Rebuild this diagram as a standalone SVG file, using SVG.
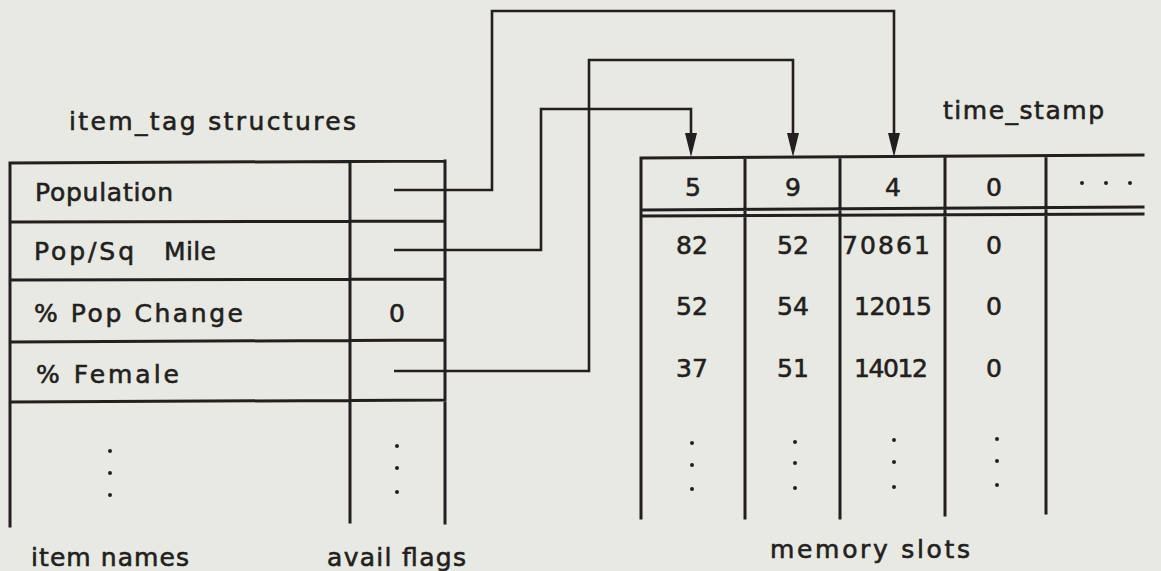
<svg xmlns="http://www.w3.org/2000/svg" width="1161" height="571" viewBox="0 0 1161 571">
<style>
.bg{fill:#e9e9e3}
.ln{stroke:#231f20;stroke-width:3;fill:none;stroke-linecap:square}
.cn{stroke:#231f20;stroke-width:2.6;fill:none}
.t{font-family:"DejaVu Sans","Liberation Sans",sans-serif;font-size:25px;fill:#231f20;stroke:#231f20;stroke-width:0.6}
.c{text-anchor:middle}
.dot{fill:#231f20}
</style>
<defs>
<marker id="arr" viewBox="0 0 24 12" markerWidth="24" markerHeight="12" refX="17" refY="6" orient="auto" markerUnits="userSpaceOnUse">
<path d="M0,0 L24,6 L0,12 z" fill="#231f20"/>
</marker>
</defs>
<rect class="bg" x="0" y="0" width="1161" height="571"/>

<g id="labels">
<text class="t" x="69" y="130" textLength="287" lengthAdjust="spacing">item_tag structures</text>
<text class="t" x="943" y="119" textLength="161" lengthAdjust="spacing">time_stamp</text>
<text class="t" x="31" y="566" textLength="158" lengthAdjust="spacing">item names</text>
<text class="t" x="327" y="566" textLength="139" lengthAdjust="spacing">avail flags</text>
<text class="t" x="770" y="558" textLength="200" lengthAdjust="spacing">memory slots</text>
</g>

<g id="item-tag-table">
<path class="ln" d="M10,163 L445,161 M10,163 L10,526 M350,162 L350,522 M445,161 L445,523 M10,222 L445,221 M10,280 L445,279 M10,342 L445,340 M10,402 L445,400"/>
<text class="t" x="35" y="201" textLength="138" lengthAdjust="spacing">Population</text>
<text class="t" x="34" y="260"><tspan textLength="100" lengthAdjust="spacing">Pop/Sq</tspan><tspan x="164" textLength="52" lengthAdjust="spacing">Mile</tspan></text>
<text class="t" x="34" y="322" textLength="209" lengthAdjust="spacing">% Pop Change</text>
<text class="t" x="36" y="383" textLength="143" lengthAdjust="spacing">% Female</text>
<text class="t c" x="397" y="322">0</text>
<circle class="dot" cx="110" cy="451" r="2"/>
<circle class="dot" cx="110" cy="473" r="2"/>
<circle class="dot" cx="110" cy="495" r="2"/>
<circle class="dot" cx="397" cy="446" r="2"/>
<circle class="dot" cx="397" cy="468" r="2"/>
<circle class="dot" cx="397" cy="492" r="2"/>
</g>

<g id="memory-table">
<path class="ln" d="M641,158 L1143,155 M641,158 L641,518 M745,158 L745,518 M840,158 L840,518 M945,157 L945,515 M1046,157 L1046,513 M641,210 L1143,207 M641,216 L1143,214"/>
<text class="t c" x="693" y="196">5</text>
<text class="t c" x="793" y="196">9</text>
<text class="t c" x="893" y="196">4</text>
<text class="t c" x="994" y="196">0</text>
<circle class="dot" cx="1082" cy="183" r="2"/>
<circle class="dot" cx="1106" cy="183" r="2"/>
<circle class="dot" cx="1130" cy="183" r="2"/>
<text class="t c" x="692" y="254">82</text>
<text class="t c" x="793" y="254">52</text>
<text class="t c" x="886" y="254" textLength="88" lengthAdjust="spacing">70861</text>
<text class="t c" x="994" y="254">0</text>
<text class="t c" x="692" y="315">52</text>
<text class="t c" x="793" y="315">54</text>
<text class="t c" x="893" y="315" textLength="78" lengthAdjust="spacing">12015</text>
<text class="t c" x="994" y="315">0</text>
<text class="t c" x="692" y="377">37</text>
<text class="t c" x="793" y="377">51</text>
<text class="t c" x="891" y="377" textLength="74" lengthAdjust="spacing">14012</text>
<text class="t c" x="994" y="377">0</text>
<circle class="dot" cx="692" cy="443" r="2"/>
<circle class="dot" cx="692" cy="465" r="2"/>
<circle class="dot" cx="692" cy="489" r="2"/>
<circle class="dot" cx="795" cy="442" r="2"/>
<circle class="dot" cx="795" cy="463" r="2"/>
<circle class="dot" cx="795" cy="488" r="2"/>
<circle class="dot" cx="894" cy="440" r="2"/>
<circle class="dot" cx="894" cy="462" r="2"/>
<circle class="dot" cx="894" cy="487" r="2"/>
<circle class="dot" cx="997" cy="439" r="2"/>
<circle class="dot" cx="997" cy="461" r="2"/>
<circle class="dot" cx="997" cy="485" r="2"/>
</g>

<g id="connectors">
<path class="cn" d="M394,190 L492,190 L492,11 L894,11 L894,150" marker-end="url(#arr)"/>
<path class="cn" d="M394,250 L541,250 L541,109 L691,109 L691,150" marker-end="url(#arr)"/>
<path class="cn" d="M394,371 L589,371 L589,60 L793,60 L793,150" marker-end="url(#arr)"/>
</g>
</svg>
